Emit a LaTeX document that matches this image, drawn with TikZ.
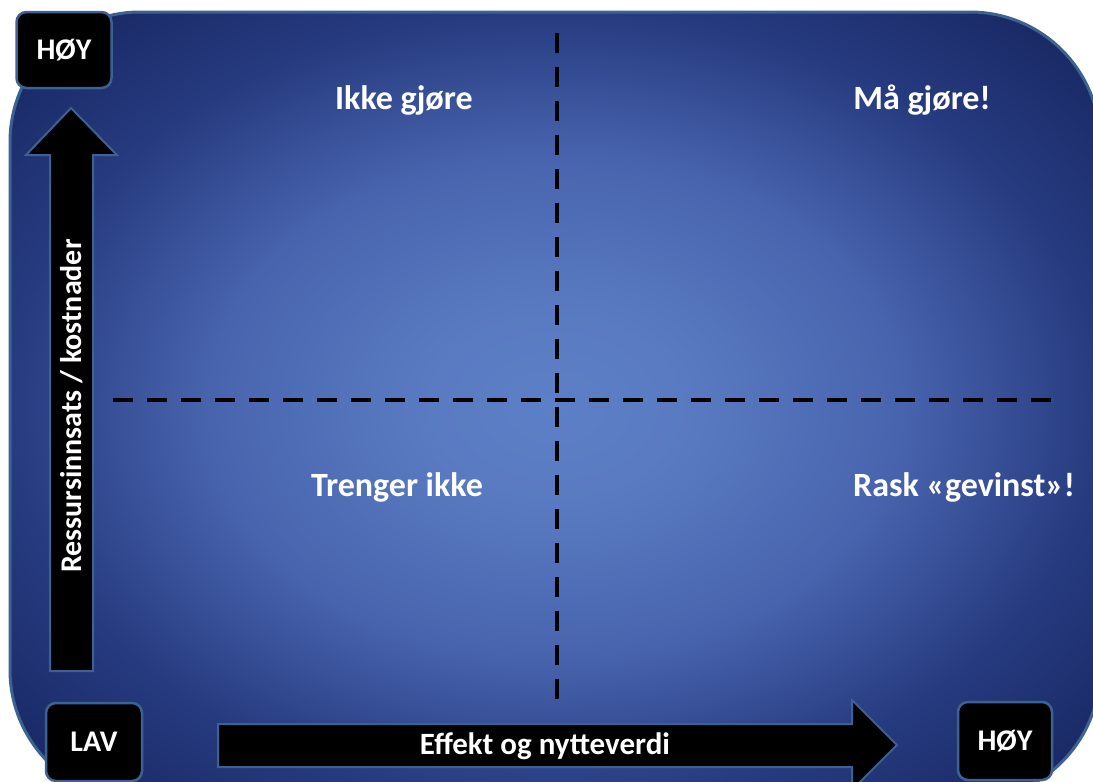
\documentclass[tikz,border=0pt]{standalone}
\usepackage{fontspec}
\setmainfont{Carlito}
\usetikzlibrary{positioning,calc}
\definecolor{rim}{RGB}{61,98,146}
\pgfdeclareradialshading{bgshade}{\pgfpoint{0bp}{0bp}}{%
  rgb(0bp)=(0.36,0.50,0.78);
  rgb(6bp)=(0.35,0.48,0.76);
  rgb(16bp)=(0.28,0.39,0.68);
  rgb(25bp)=(0.15,0.23,0.50);
  rgb(34bp)=(0.09,0.15,0.38);
  rgb(50bp)=(0.09,0.15,0.38)}

\begin{document}
\begin{tikzpicture}[x=1pt,y=-1pt]
\tikzset{lbl/.style={text=white,font=\bfseries\fontsize{34}{38}\selectfont},
  tag/.style={draw=rim,line width=2.5pt,fill=black,rounded corners=10pt,text=white,
    font=\bfseries\fontsize{30}{34}\selectfont},
  axis/.style={draw=rim,line width=2pt,fill=black,line join=miter},
  split/.style={line width=3.5pt,dash pattern=on 20pt off 14pt}}
   \useasboundingbox (0,0) rectangle (1093,782);
   \begin{scope}
   \clip (0,0) rectangle (1093,782);
   \path[draw=rim,line width=3pt,shading=bgshade,rounded corners=130pt] (10,12) rectangle (1100,800);
   \end{scope}

   % dashed cross
   \coordinate (T) at (557,33);
   \coordinate (B) at (557,700);
   \coordinate (L) at (113,400);
   \coordinate (R) at (1060,400);
   \draw[split] (T) -- (B);
   \draw[split] (L) -- (R);

   % quadrants
   \node[lbl] (Q1) at (404,100) {Ikke gjøre};
   \node[lbl] (Q2) at (922,100) {Må gjøre!};
   \node[lbl] (Q3) at (397,487) {Trenger ikke};
   \node[lbl] (Q4) at (964,487) {Rask «gevinst»!};

   % axes
   \path[axis] (71,108) -- (117,155) -- (93,155) -- (93,671) -- (50,671) -- (50,155) -- (26,155) -- cycle;
   \node[text=white,font=\bfseries\fontsize{30}{34}\selectfont,rotate=90] (Y) at (72,406) {Ressursinnsats / kostnader};
   \path[axis] (897,745) -- (852,700) -- (852,724) -- (218,724) -- (218,767) -- (852,767) -- (852,790) -- cycle;
   \node[text=white,font=\bfseries\fontsize{31}{34}\selectfont] (X) at (545,746) {Effekt og nytteverdi};

   % ends
   \node[tag,minimum width=95pt,minimum height=76pt] (hiY) at (64,50) {HØY};
   \node[tag,minimum width=96pt,minimum height=78pt] (lo) at (94,742) {LAV};
   \node[tag,minimum width=94pt,minimum height=78pt] (hiX) at (1005,741) {HØY};
\end{tikzpicture}
\end{document}
